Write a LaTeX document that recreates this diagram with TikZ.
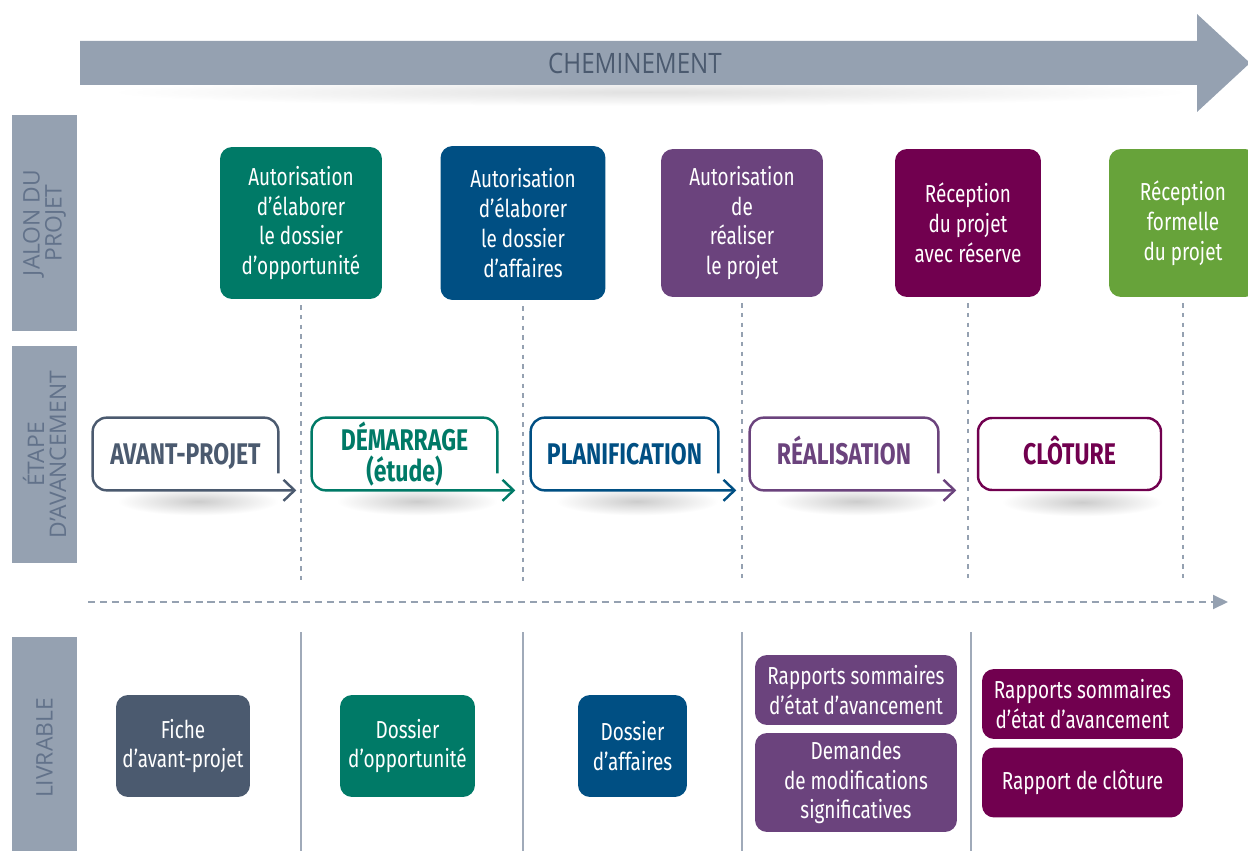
\documentclass[tikz,border=0pt]{standalone}
\usepackage{fontspec}
\setmainfont{Fira Sans}[FakeStretch=0.77]
\newfontfamily\barfont{Open Sans}
\newfontfamily\arrowfont{Open Sans}[FakeStretch=0.86]
\usepackage{xcolor}
\usepackage{tikz}
\usetikzlibrary{arrows.meta, positioning, backgrounds}

\definecolor{bargray}{HTML}{95A1B1}
\definecolor{bartext}{HTML}{62728A}
\definecolor{cslate}{HTML}{4B5A6F}
\definecolor{cteal}{HTML}{007A67}
\definecolor{cnavy}{HTML}{004F83}
\definecolor{cpurple}{HTML}{6B437D}
\definecolor{cmaroon}{HTML}{71004F}
\definecolor{cgreen}{HTML}{67A33A}

\begin{document}
\begin{tikzpicture}[x=0.02cm, y=-0.02cm,
  bar/.style={fill=bargray, text=bartext, rotate=90, minimum height=1.3cm, align=center, inner sep=0pt, font=\barfont\fontsize{13}{12.5}\selectfont},
  jalon/.style={rounded corners=0.24cm, text=white, align=center, inner sep=0pt, font=\fontsize{14}{17}\selectfont},
  etape/.style={minimum height=1.44cm, align=center, inner sep=0pt, font=\bfseries\fontsize{17}{17.6}\selectfont},
  oneline/.style={text height=11.7pt, text depth=0pt},
  contour/.style={line width=1.4pt, rounded corners=0.28cm, -{Straight Barb[length=0.22cm, width=0.42cm]}},
  guide/.style={draw=bargray, line width=0.8pt, dash pattern=on 2.5pt off 3pt, shorten <=0.12cm},
  timeline/.style={draw=bargray, line width=1.1pt, dash pattern=on 4pt off 2.8pt, -{Triangle[length=0.3cm, width=0.28cm]}},
  sep/.style={draw=bargray!90, line width=1.1pt}]
  \useasboundingbox (0,0) rectangle (1248,851);

  % cheminement
  \fill[bargray] (80,41) -- (1197,41) -- (1197,14) -- (1250,63) -- (1197,112) -- (1197,85) -- (80,85) -- cycle;
  \node[text=cslate, font=\arrowfont\fontsize{16}{16}\selectfont] (chemin) at (635,63) {CHEMINEMENT};

  % left bars
  \node[bar, minimum width=4.32cm] (barjalon) at (44.5,223) {JALON DU\\PROJET};
  \node[bar, minimum width=4.34cm] (baretape) at (44.5,454.5) {ÉTAPE\\D’AVANCEMENT};
  \node[bar, minimum width=4.44cm] (barlivr) at (44.5,748) {LIVRABLE};

  % jalons
  \node[jalon, fill=cteal, minimum width=3.24cm, minimum height=3.04cm] (j1) at (301,223) {Autorisation\\d’élaborer\\le dossier\\d’opportunité};
  \node[jalon, fill=cnavy, minimum width=3.3cm, minimum height=3.08cm] (j2) at (523,223) {Autorisation\\d’élaborer\\le dossier\\d’affaires};
  \node[jalon, fill=cpurple, minimum width=3.24cm, minimum height=2.96cm] (j3) at (742,223) {Autorisation\\de\\réaliser\\le projet};
  \node[jalon, fill=cmaroon, minimum width=2.92cm, minimum height=2.96cm] (j4) at (968,223) {Réception\\du projet\\avec réserve};
  \node[jalon, fill=cgreen, minimum width=2.96cm, minimum height=2.96cm] (j5) at (1183,223) {Réception\\formelle\\du projet};

  \coordinate (g1) at (301,583);
  \coordinate (g2) at (523,583);
  \coordinate (g3) at (742,583);
  \coordinate (g4) at (968,583);
  \coordinate (g5) at (1183,583);
  \draw[guide] (j1) -- (g1);
  \draw[guide] (j2) -- (g2);
  \draw[guide] (j3) -- (g3);
  \draw[guide] (j4) -- (g4);
  \draw[guide] (j5) -- (g5);

  % etapes
  \node[etape, oneline, text=cslate, minimum width=3.7cm] (e1) at (185.5,454) {AVANT-PROJET};
  \node[etape, text=cteal, minimum width=3.7cm] (e2) at (404.5,454) {DÉMARRAGE\\(étude)};
  \node[etape, oneline, text=cnavy, minimum width=3.74cm] (e3) at (624.5,454) {PLANIFICATION};
  \node[etape, oneline, text=cpurple, minimum width=3.76cm] (e4) at (844,454) {RÉALISATION};
  \node[etape, oneline, text=cmaroon, minimum width=3.66cm, draw=cmaroon, line width=1.4pt, rounded corners=0.28cm] (e5) at (1069.5,454) {CLÔTURE};

  \draw[contour, cslate] ([yshift=0.34cm]e1.south east) -- (e1.north east) -- (e1.north west) -- (e1.south west) -- ([xshift=0.36cm]e1.south east);
  \draw[contour, cteal] ([yshift=0.34cm]e2.south east) -- (e2.north east) -- (e2.north west) -- (e2.south west) -- ([xshift=0.36cm]e2.south east);
  \draw[contour, cnavy] ([yshift=0.34cm]e3.south east) -- (e3.north east) -- (e3.north west) -- (e3.south west) -- ([xshift=0.36cm]e3.south east);
  \draw[contour, cpurple] ([yshift=0.34cm]e4.south east) -- (e4.north east) -- (e4.north west) -- (e4.south west) -- ([xshift=0.36cm]e4.south east);

  \begin{pgfonlayer}{background}
    \shade[inner color=black!12, outer color=white] (110,78) rectangle (1190,106);
    \shade[inner color=black!20, outer color=white] ([xshift=0.5cm, yshift=0.06cm]e1.south west) rectangle ([yshift=-0.5cm]e1.south east);
    \shade[inner color=black!20, outer color=white] ([xshift=0.5cm, yshift=0.06cm]e2.south west) rectangle ([yshift=-0.5cm]e2.south east);
    \shade[inner color=black!20, outer color=white] ([xshift=0.5cm, yshift=0.06cm]e3.south west) rectangle ([yshift=-0.5cm]e3.south east);
    \shade[inner color=black!20, outer color=white] ([xshift=0.5cm, yshift=0.06cm]e4.south west) rectangle ([yshift=-0.5cm]e4.south east);
    \shade[inner color=black!20, outer color=white] ([xshift=0.5cm, yshift=0.06cm]e5.south west) rectangle ([yshift=-0.5cm]e5.south east);
  \end{pgfonlayer}

  % ligne du temps
  \coordinate (t0) at (88,602);
  \coordinate (t1) at (1228,602);
  \draw[timeline] (t0) -- (t1);

  % livrables
  \coordinate (s1a) at (301,632);  \coordinate (s1b) at (301,860);
  \coordinate (s2a) at (523,632);  \coordinate (s2b) at (523,860);
  \coordinate (s3a) at (742,632);  \coordinate (s3b) at (742,860);
  \coordinate (s4a) at (971,632);  \coordinate (s4b) at (971,860);
  \draw[sep] (s1a) -- (s1b);
  \draw[sep] (s2a) -- (s2b);
  \draw[sep] (s3a) -- (s3b);
  \draw[sep] (s4a) -- (s4b);

  \node[jalon, fill=cslate, minimum width=2.68cm, minimum height=2.04cm] (l1) at (183,746) {Fiche\\d’avant-projet};
  \node[jalon, fill=cteal, minimum width=2.7cm, minimum height=2.04cm] (l2) at (407.5,746) {Dossier\\d’opportunité};
  \node[jalon, fill=cnavy, minimum width=2.18cm, minimum height=2.04cm] (l3) at (632.5,746) {Dossier\\d’affaires};
  \node[jalon, fill=cpurple, minimum width=4.04cm, minimum height=1.4cm] (l4a) at (856,690) {Rapports sommaires\\d’état d’avancement};
  \node[jalon, fill=cpurple, minimum width=4.04cm, minimum height=1.98cm] (l4b) at (856,782.5) {Demandes\\de modifications\\significatives};
  \node[jalon, fill=cmaroon, minimum width=4.02cm, minimum height=1.4cm] (l5a) at (1082.5,704) {Rapports sommaires\\d’état d’avancement};
  \node[jalon, fill=cmaroon, minimum width=4.02cm, minimum height=1.4cm] (l5b) at (1082.5,782.5) {Rapport de clôture};
\end{tikzpicture}
\end{document}
